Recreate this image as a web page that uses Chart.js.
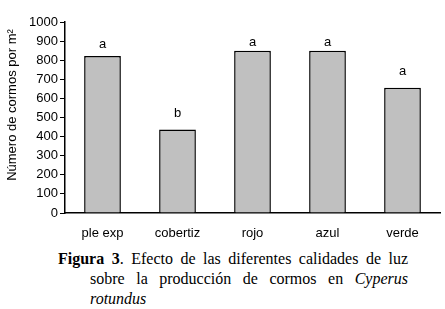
<!DOCTYPE html>
<html><head><meta charset="utf-8">
<script src="https://cdn.jsdelivr.net/npm/chart.js@4/dist/chart.umd.min.js"></script>
<style>
html,body{margin:0;padding:0;background:#fff;width:445px;height:309px;overflow:hidden}
#wrap{position:absolute;left:0;top:0;width:445px;height:245px}
.cap{position:absolute;font-family:"Liberation Serif","Times New Roman",serif;font-size:16px;color:#000;white-space:nowrap;line-height:20px}
.just{text-align:justify;text-align-last:justify;white-space:normal}
</style></head>
<body>
<div id="wrap"><canvas id="c" width="445" height="245"></canvas></div>
<div class="cap just" style="left:58px;top:249px;width:350px"><b>Figura 3</b>. Efecto de las diferentes calidades de luz</div>
<div class="cap just" style="left:90px;top:269px;width:318px">sobre la producción de cormos en <i>Cyperus</i></div>
<div class="cap" style="left:90px;top:289px"><i>rotundus</i></div>
<script>
const categories = ["ple exp", "cobertiz", "rojo", "azul", "verde"];
const values = [822, 437, 850, 850, 656];
const letters = ["a", "b", "a", "a", "a"];
const letterValues = [885, 520, 895, 895, 740];
const yTicks = [0,100,200,300,400,500,600,700,800,900,1000];
const yTitle = "Número de cormos por m²";

const FONT = '"Liberation Sans", Arial, sans-serif';

const extras = {
  id: 'extras',
  afterDatasetsDraw(chart) {
    const ctx = chart.ctx;
    const meta = chart.getDatasetMeta(0);
    const ys = chart.scales.y;
    ctx.save();
    ctx.fillStyle = '#000';
    ctx.font = '13px ' + FONT;
    ctx.textAlign = 'center';
    ctx.textBaseline = 'middle';
    meta.data.forEach((bar, i) => {
      ctx.fillText(letters[i], bar.x, ys.getPixelForValue(letterValues[i]));
    });
    // y axis title
    ctx.translate(12, 105);
    ctx.rotate(-Math.PI / 2);
    ctx.fillText(yTitle, 0, 0);
    ctx.restore();
  }
};

new Chart(document.getElementById('c'), {
  type: 'bar',
  data: {
    labels: categories,
    datasets: [{
      data: values,
      backgroundColor: '#c0c0c0',
      borderColor: '#000',
      borderWidth: 1.5,
      categoryPercentage: 1,
      barPercentage: 0.49
    }]
  },
  options: {
    responsive: false,
    animation: false,
    events: [],
    layout: { padding: { left: 0, right: 5, top: 22, bottom: 0 } },
    plugins: { legend: { display: false }, tooltip: { enabled: false } },
    scales: {
      x: {
        grid: { display: false },
        border: { display: true, color: '#000', width: 1.5 },
        ticks: { color: '#000', font: { family: FONT, size: 13 }, padding: 5, maxRotation: 0 },
        afterFit(s) { s.height = 32; }
      },
      y: {
        min: 0, max: 1000,
        afterBuildTicks(s) { s.ticks = yTicks.map(v => ({ value: v })); },
        grid: { drawOnChartArea: false, drawTicks: true, tickLength: 5, color: '#000', lineWidth: 1 },
        border: { display: true, color: '#000', width: 1.5 },
        ticks: { color: '#000', font: { family: FONT, size: 13 }, padding: 2, callback: v => String(v) },
        afterFit(s) { s.width = 65; }
      }
    }
  },
  plugins: [extras]
});
</script>
</body></html>
